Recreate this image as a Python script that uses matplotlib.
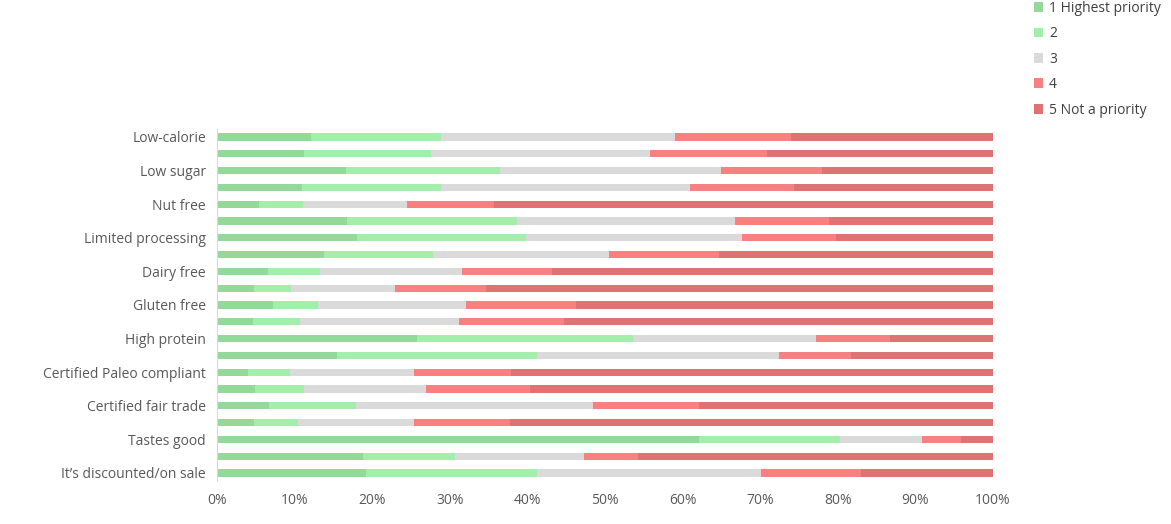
"""
Priority ranking, 100% stacked horizontal bars
"""
import matplotlib.pyplot as plt
import numpy as np

plt.rcParams['font.family'] = ['Open Sans', 'DejaVu Sans']

# row labels (every other row is unlabelled, as in the original)
labels = ["Low-calorie", "", "Low sugar", "", "Nut free", "", "Limited processing", "",
          "Dairy free", "", "Gluten free", "", "High protein", "", "Certified Paleo compliant", "",
          "Certified fair trade", "", "Tastes good", "", "It’s discounted/on sale"]

p1 = [12.1, 11.2, 16.6, 10.9, 5.4, 16.8, 18.1, 13.8, 6.6, 4.8, 7.2,
      4.6, 25.8, 15.5, 4.0, 4.9, 6.7, 4.8, 62.1, 18.8, 19.2]
p2 = [16.8, 16.4, 19.9, 18.0, 5.7, 21.9, 21.7, 14.1, 6.7, 4.7, 5.8,
      6.1, 27.8, 25.7, 5.4, 6.3, 11.2, 5.7, 18.2, 11.9, 22.0]
p3 = [30.1, 28.2, 28.4, 32.1, 13.4, 28.0, 27.9, 22.6, 18.3, 13.4, 19.1,
      20.5, 23.6, 31.2, 16.0, 15.7, 30.5, 14.9, 10.5, 16.6, 28.9]
p4 = [15.0, 15.1, 13.1, 13.4, 11.2, 12.2, 12.1, 14.2, 11.6, 11.8, 14.1,
      13.5, 9.5, 9.3, 12.5, 13.4, 13.7, 12.4, 5.1, 7.0, 12.9]
p5 = [26.0, 29.1, 22.0, 25.6, 64.3, 21.1, 20.2, 35.3, 56.8, 65.3, 53.8,
      55.3, 13.3, 18.3, 62.1, 59.7, 37.9, 62.2, 4.1, 45.7, 17.0]

series = [p1, p2, p3, p4, p5]
names = ["1 Highest priority", "2", "3", "4", "5 Not a priority"]
colors = ["#94D99A", "#A4EEAB", "#DADADA", "#F88080", "#DF7373"]

fig = plt.figure(figsize=(11.71, 5.24), dpi=100)
ax = fig.add_axes([0.1853, 0.0813, 0.6627, 0.6733])

y = np.arange(len(labels))
left = np.zeros(len(labels))
for vals, name, c in zip(series, names, colors):
    vals = np.array(vals)
    ax.barh(y, vals, left=left, height=0.43, color=c, label=name)
    left += vals

ax.set_xlim(0, 100)
ax.set_ylim(len(labels) - 0.5, -0.5)
ax.set_yticks(y)
ax.set_yticklabels(labels, fontsize=10, color="#595959")
ax.set_xticks(np.arange(0, 101, 10))
ax.set_xticklabels([f"{v}%" for v in range(0, 101, 10)], fontsize=10, color="#595959")
ax.tick_params(length=0, pad=8)
for s in ["top", "right", "bottom"]:
    ax.spines[s].set_visible(False)
ax.spines["left"].set_color("#D9D9D9")

fig.legend(loc="upper left", bbox_to_anchor=(0.872, 1.022), frameon=False,
           fontsize=10, handlelength=0.7, handleheight=0.7, handletextpad=0.4,
           labelspacing=0.75, labelcolor="#404040")

fig.savefig("out.png", dpi=100)
